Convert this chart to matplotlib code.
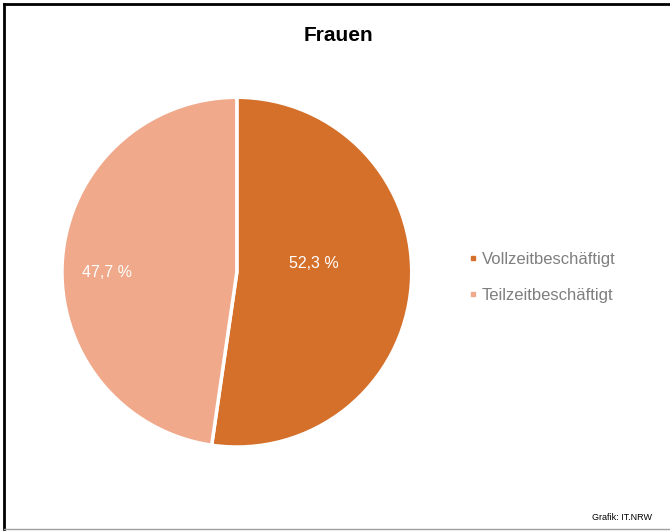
import matplotlib.pyplot as plt
from matplotlib.lines import Line2D

plt.rcParams['font.family'] = ['Liberation Sans', 'DejaVu Sans']

categories = ['Vollzeitbeschäftigt', 'Teilzeitbeschäftigt']
values = [52.3, 47.7]
labels = ['52,3 %', '47,7 %']
colors = ['#D5702B', '#F0A98A']

fig = plt.figure(figsize=(6.7, 5.31), dpi=100)

# frame around the chart
fig.add_artist(Line2D([0.006, 0.006], [0.004, 0.993], color='black', lw=2))
fig.add_artist(Line2D([0.006, 1.0], [0.993, 0.993], color='black', lw=2))
fig.add_artist(Line2D([0.006, 1.0], [0.004, 0.004], color='#a0a0a0', lw=1))

ax = fig.add_axes([0.0925, 0.158, 0.522, 0.659])
wedges, _ = ax.pie(values, colors=colors, startangle=90, counterclock=False,
                   wedgeprops=dict(edgecolor='white', linewidth=2.5))
ax.set_xlim(-1, 1)
ax.set_ylim(-1, 1)

ax.text(0.44, 0.05, labels[0], color='white', fontsize=11.5, ha='center', va='center')
ax.text(-0.74, 0.0, labels[1], color='white', fontsize=11.5, ha='center', va='center')

fig.text(0.505, 0.933, 'Frauen', fontsize=15, fontweight='bold', ha='center', va='center')

handles = [Line2D([], [], marker='s', color=c, linestyle='none', markersize=3)
           for c in colors]
leg = fig.legend(handles, categories, loc='center left', bbox_to_anchor=(0.677, 0.478),
                 frameon=False, fontsize=12, handlelength=0.5,
                 handletextpad=0.3, labelspacing=1.25, labelcolor='#7f7f7f')

fig.text(0.973, 0.026, 'Grafik: IT.NRW', fontsize=6.5, ha='right', va='center')

fig.savefig('out.png', dpi=100)
